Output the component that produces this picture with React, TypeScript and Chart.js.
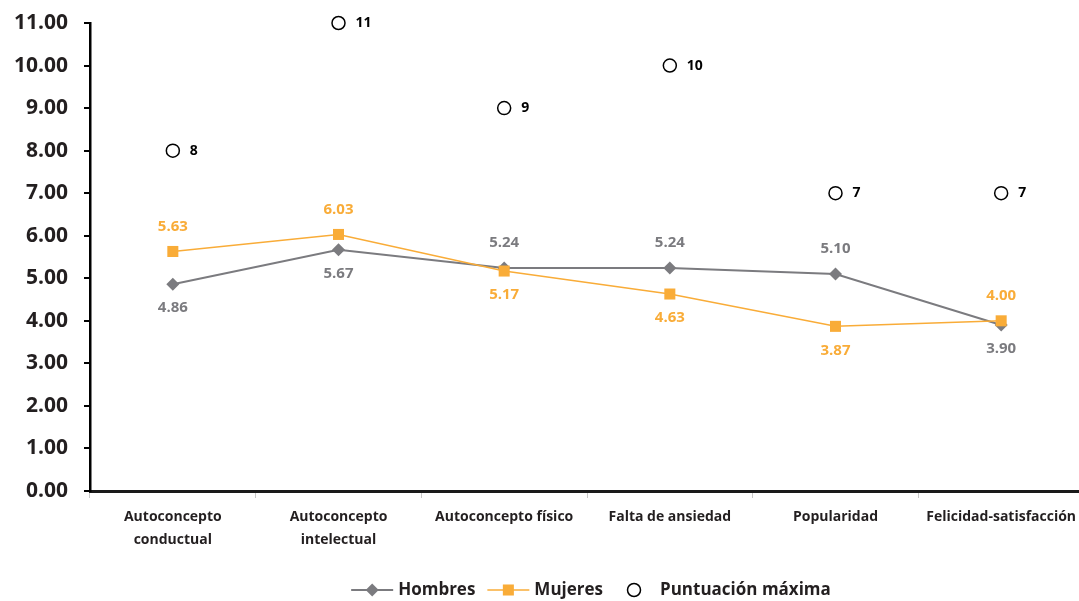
import React, { useEffect, useRef } from "react";
import { Chart, registerables } from "chart.js";

Chart.register(...registerables);

const categories: (string | string[])[] = [
  ["Autoconcepto", "conductual"],
  ["Autoconcepto", "intelectual"],
  "Autoconcepto físico",
  "Falta de ansiedad",
  "Popularidad",
  "Felicidad-satisfacción",
];

const hombres = [4.86, 5.67, 5.24, 5.24, 5.1, 3.9];
const mujeres = [5.63, 6.03, 5.17, 4.63, 3.87, 4.0];
const puntuacionMaxima = [8, 11, 9, 10, 7, 7];

// label placement for each series: true = above the point
const hombresAbove = [false, false, true, true, true, false];
const mujeresAbove = [true, true, false, false, false, true];

const GRAY = "#7b7b7f";
const ORANGE = "#f9ac38";
const DARK = "#231f20";
const FONT = "'Open Sans', sans-serif";

// the plot runs a few pixels past the visible right edge
const CANVAS_W = 1092;
const CANVAS_H = 601;

const valueLabels = {
  id: "valueLabels",
  afterDatasetsDraw(chart: any) {
    const ctx = chart.ctx;
    ctx.save();
    ctx.textAlign = "center";
    ctx.textBaseline = "middle";
    ctx.font = `bold 15px ${FONT}`;
    const series: [number, string, boolean[]][] = [
      [0, GRAY, hombresAbove],
      [1, ORANGE, mujeresAbove],
    ];
    for (const [di, color, above] of series) {
      const meta = chart.getDatasetMeta(di);
      const data = chart.data.datasets[di].data as number[];
      ctx.fillStyle = color;
      meta.data.forEach((pt: any, i: number) => {
        const dy = above[i] ? -25 : 24;
        ctx.fillText(data[i].toFixed(2), pt.x, pt.y + dy);
      });
    }
    const maxMeta = chart.getDatasetMeta(2);
    const maxData = chart.data.datasets[2].data as number[];
    ctx.fillStyle = "#000";
    ctx.font = `bold 14px ${FONT}`;
    ctx.textAlign = "left";
    maxMeta.data.forEach((pt: any, i: number) => {
      ctx.fillText(String(maxData[i]), pt.x + 17, pt.y);
    });
    ctx.restore();
  },
};

function drawMarker(ctx: CanvasRenderingContext2D, ds: any, x: number, y: number) {
  const r = ds.pointRadius;
  ctx.beginPath();
  if (ds.pointStyle === "rectRot") {
    ctx.moveTo(x - r, y);
    ctx.lineTo(x, y - r);
    ctx.lineTo(x + r, y);
    ctx.lineTo(x, y + r);
    ctx.closePath();
    ctx.fillStyle = ds.pointBackgroundColor;
    ctx.fill();
  } else if (ds.pointStyle === "rect") {
    const s = Math.SQRT1_2 * r;
    ctx.rect(x - s, y - s, 2 * s, 2 * s);
    ctx.fillStyle = ds.pointBackgroundColor;
    ctx.fill();
  } else {
    ctx.arc(x, y, r, 0, Math.PI * 2);
    ctx.fillStyle = ds.pointBackgroundColor;
    ctx.fill();
    ctx.strokeStyle = ds.pointBorderColor;
    ctx.lineWidth = ds.pointBorderWidth;
    ctx.stroke();
  }
}

const lineLegend = {
  id: "lineLegend",
  afterDraw(chart: any) {
    const ctx = chart.ctx;
    const y = 590;
    ctx.save();
    ctx.font = `bold 17px ${FONT}`;
    ctx.textBaseline = "middle";
    ctx.textAlign = "left";
    const lineW = 42;
    const items = chart.data.datasets.map((ds: any) => ({
      ds,
      text: ds.label,
      w: ctx.measureText(ds.label).width,
      marker: ds.showLine === false ? 14 : lineW,
    }));
    const gapIn = (it: any) => (it.ds.showLine === false ? 19 : 5);
    const gapsAfter = [12, 24];
    const total =
      items.reduce((s: number, it: any) => s + it.marker + gapIn(it) + it.w, 0) +
      gapsAfter[0] +
      gapsAfter[1];
    let x = (chart.chartArea.left + chart.chartArea.right) / 2 + 4 - total / 2;
    items.forEach((it: any, idx: number) => {
      const ds = it.ds;
      const cx = x + it.marker / 2;
      if (ds.showLine !== false) {
        ctx.strokeStyle = ds.borderColor;
        ctx.lineWidth = ds.borderWidth;
        ctx.beginPath();
        ctx.moveTo(x, y);
        ctx.lineTo(x + it.marker, y);
        ctx.stroke();
      }
      drawMarker(ctx, ds, cx, y);
      ctx.fillStyle = DARK;
      ctx.fillText(it.text, x + it.marker + gapIn(it), y);
      x += it.marker + gapIn(it) + it.w + (gapsAfter[idx] ?? 0);
    });
    ctx.restore();
  },
};

export default function App() {
  const ref = useRef<HTMLCanvasElement>(null);

  useEffect(() => {
    if (!ref.current) return;
    const chart = new Chart(ref.current, {
      type: "line",
      data: {
        labels: categories,
        datasets: [
          {
            label: "Hombres",
            data: hombres,
            borderColor: GRAY,
            backgroundColor: GRAY,
            borderWidth: 2,
            pointStyle: "rectRot",
            pointRadius: 6.5,
            pointBorderWidth: 0,
            pointBackgroundColor: GRAY,
            pointBorderColor: GRAY,
            order: 3,
          } as any,
          {
            label: "Mujeres",
            data: mujeres,
            borderColor: ORANGE,
            backgroundColor: ORANGE,
            borderWidth: 1.5,
            pointStyle: "rect",
            pointRadius: 7.8,
            pointBorderWidth: 0,
            pointBackgroundColor: ORANGE,
            pointBorderColor: ORANGE,
            order: 2,
          } as any,
          {
            label: "Puntuación máxima",
            data: puntuacionMaxima,
            showLine: false,
            borderColor: "#000",
            backgroundColor: "#fff",
            pointStyle: "circle",
            pointRadius: 6.5,
            pointBorderWidth: 1.5,
            pointBackgroundColor: "#fff",
            pointBorderColor: "#000",
            order: 1,
          } as any,
        ],
      },
      options: {
        responsive: false,
        animation: false,
        devicePixelRatio: 1,
        clip: false as any,
        layout: { padding: { top: 23, right: 1, left: 0, bottom: 0 } },
        plugins: {
          legend: { display: false },
          tooltip: { enabled: false },
        },
        scales: {
          x: {
            offset: true,
            grid: {
              offset: true,
              drawOnChartArea: false,
              drawTicks: true,
              tickLength: 7,
              color: "#c8c8c8",
            },
            border: { display: true, color: "#1a1a1a", width: 3 },
            ticks: {
              color: DARK,
              font: { family: FONT, weight: "bold", size: 14, lineHeight: 1.6 },
              padding: 8,
              maxRotation: 0,
              autoSkip: false,
            },
            afterFit(scale: any) {
              scale.height = 110;
              scale.paddingLeft = 0;
              scale.paddingRight = 0;
            },
          },
          y: {
            min: 0,
            max: 11,
            grid: {
              drawOnChartArea: false,
              drawTicks: true,
              tickLength: 6,
              color: "#000",
              lineWidth: 2,
            },
            border: { display: true, color: "#000", width: 2.5 },
            ticks: {
              stepSize: 1,
              color: DARK,
              font: { family: FONT, weight: "bold", size: 21 },
              padding: 16,
              callback: (v: any) => Number(v).toFixed(2),
            },
            afterFit(scale: any) {
              scale.width = 90;
              scale.paddingTop = 0;
              scale.paddingBottom = 0;
            },
          },
        },
      },
      plugins: [valueLabels, lineLegend],
    });
    return () => chart.destroy();
  }, []);

  return (
    <div
      style={{
        position: "absolute",
        left: 0,
        top: 0,
        width: 1079,
        height: 601,
        overflow: "hidden",
      }}
    >
      <canvas ref={ref} width={CANVAS_W} height={CANVAS_H} />
    </div>
  );
}
